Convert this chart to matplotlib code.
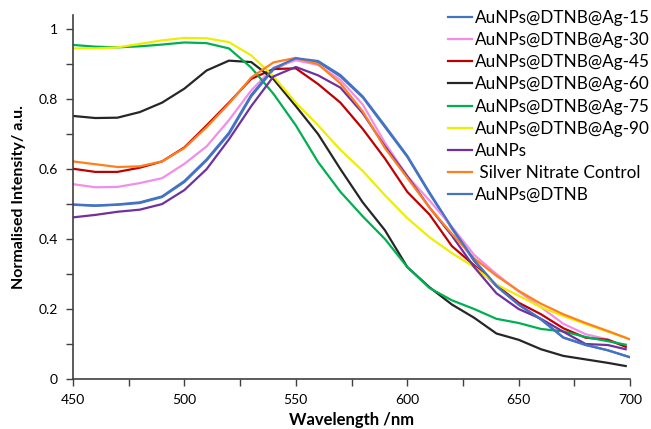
import matplotlib.pyplot as plt
from matplotlib.ticker import MultipleLocator

plt.rcParams['font.family'] = ['Lato', 'DejaVu Sans']

# wavelength points (nm)
wl = [450, 460, 470, 480, 490, 500, 510, 520, 530, 540, 550, 560, 570,
      580, 590, 600, 610, 620, 630, 640, 650, 660, 670, 680, 690, 698]
wl_end = wl[:-1] + [700]

ag15 = [0.498, 0.495, 0.498, 0.503, 0.52, 0.563, 0.625, 0.70, 0.808, 0.885, 0.915, 0.906, 0.865,
        0.805, 0.72, 0.635, 0.53, 0.43, 0.337, 0.265, 0.212, 0.17, 0.118, 0.097, 0.082, 0.062]
ag30 = [0.557, 0.548, 0.549, 0.56, 0.574, 0.615, 0.665, 0.74, 0.825, 0.89, 0.911, 0.898, 0.855,
        0.785, 0.675, 0.58, 0.51, 0.435, 0.355, 0.30, 0.25, 0.205, 0.158, 0.128, 0.113, 0.093]
ag45 = [0.601, 0.592, 0.592, 0.604, 0.622, 0.662, 0.725, 0.79, 0.858, 0.886, 0.888, 0.843, 0.79,
        0.715, 0.63, 0.535, 0.47, 0.38, 0.325, 0.268, 0.218, 0.185, 0.145, 0.118, 0.112, 0.092]
ag60 = [0.752, 0.746, 0.747, 0.763, 0.79, 0.83, 0.882, 0.91, 0.906, 0.857, 0.78, 0.70, 0.60,
        0.505, 0.425, 0.32, 0.262, 0.213, 0.175, 0.13, 0.112, 0.085, 0.066, 0.056, 0.046, 0.037]
ag75 = [0.955, 0.95, 0.948, 0.951, 0.956, 0.962, 0.96, 0.945, 0.89, 0.815, 0.725, 0.62, 0.535,
        0.465, 0.40, 0.32, 0.26, 0.225, 0.20, 0.172, 0.16, 0.143, 0.136, 0.12, 0.108, 0.098]
ag90 = [0.945, 0.945, 0.948, 0.958, 0.968, 0.975, 0.974, 0.963, 0.925, 0.865, 0.79, 0.725, 0.655,
        0.595, 0.525, 0.46, 0.405, 0.36, 0.32, 0.27, 0.238, 0.205, 0.18, 0.157, 0.135, 0.118]
aunps = [0.462, 0.469, 0.478, 0.484, 0.50, 0.54, 0.60, 0.685, 0.78, 0.865, 0.892, 0.868, 0.833,
         0.76, 0.665, 0.58, 0.49, 0.41, 0.32, 0.245, 0.20, 0.172, 0.135, 0.10, 0.097, 0.085]
silver = [0.622, 0.614, 0.606, 0.608, 0.622, 0.66, 0.72, 0.787, 0.862, 0.905, 0.918, 0.90, 0.845,
          0.765, 0.66, 0.575, 0.49, 0.415, 0.345, 0.295, 0.252, 0.215, 0.185, 0.16, 0.137, 0.113]
dtnb = [0.499, 0.496, 0.499, 0.505, 0.522, 0.566, 0.628, 0.704, 0.812, 0.888, 0.917, 0.909, 0.869,
        0.808, 0.724, 0.638, 0.533, 0.433, 0.34, 0.267, 0.213, 0.171, 0.119, 0.098, 0.082, 0.062]

fig = plt.figure(figsize=(6.51, 4.29), dpi=100)
ax = fig.add_axes([0.112, 0.1166, 0.856, 0.848])

ax.plot(wl_end, ag15, color='#4472C4', lw=1.6, label='AuNPs@DTNB@Ag-15')
ax.plot(wl, ag30, color='#F28EE8', lw=1.6, label='AuNPs@DTNB@Ag-30')
ax.plot(wl, ag45, color='#C00000', lw=1.6, label='AuNPs@DTNB@Ag-45')
ax.plot(wl, ag60, color='#262626', lw=1.6, label='AuNPs@DTNB@Ag-60')
ax.plot(wl, ag75, color='#00B050', lw=1.6, label='AuNPs@DTNB@Ag-75')
ax.plot(wl, ag90, color='#EEEE00', lw=1.6, label='AuNPs@DTNB@Ag-90')
ax.plot(wl, aunps, color='#7030A0', lw=1.6, label='AuNPs')
ax.plot(wl_end, silver, color='#FF7F1E', lw=1.6, label=' Silver Nitrate Control')
ax.plot(wl_end, dtnb, color='#4472C4', lw=1.6, label='AuNPs@DTNB')

ax.set_xlim(450, 700)
ax.set_ylim(0, 1.04)
ax.xaxis.set_major_locator(MultipleLocator(50))
ax.xaxis.set_minor_locator(MultipleLocator(25))
ax.yaxis.set_major_locator(MultipleLocator(0.2))
ax.yaxis.set_minor_locator(MultipleLocator(0.1))
ax.set_yticks([0, 0.2, 0.4, 0.6, 0.8, 1.0], ['0', '0.2', '0.4', '0.6', '0.8', '1'])
ax.tick_params(which='both', direction='out', length=5, width=1, color='#404040',
               labelsize=10)
ax.tick_params(which='major', pad=6)
for s in ['top', 'right']:
    ax.spines[s].set_visible(False)
for s in ['left', 'bottom']:
    ax.spines[s].set_color('#404040')
    ax.spines[s].set_linewidth(1.2)

ax.set_xlabel('Wavelength /nm', fontsize=12, fontweight='bold')
ax.set_ylabel('Normalised Intensity/ a.u.', fontsize=11.5, fontweight='bold')
ax.xaxis.set_label_coords(0.5, -0.09)
ax.yaxis.set_label_coords(-0.085, 0.5)

fig.legend(loc='upper left', bbox_to_anchor=(448 / 651, 1 - 10 / 429), frameon=False,
           fontsize=12.3, handlelength=1.4, handletextpad=0.2, labelspacing=0.36,
           borderpad=0, borderaxespad=0)

fig.savefig('out.png', dpi=100)
